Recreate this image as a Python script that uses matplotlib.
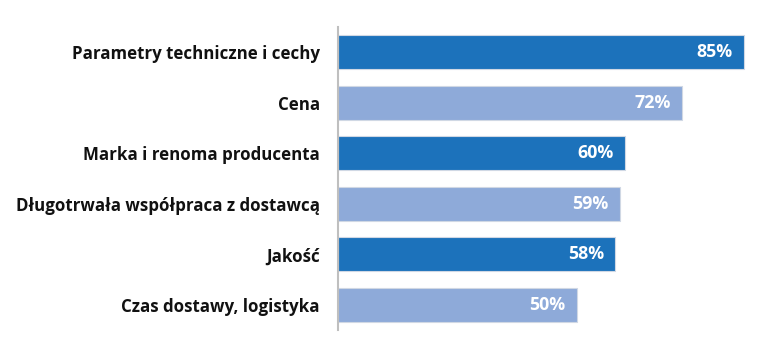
import matplotlib.pyplot as plt

categories = ["Parametry techniczne i cechy", "Cena", "Marka i renoma producenta",
              "Długotrwała współpraca z dostawcą", "Jakość", "Czas dostawy, logistyka"]
values = [85, 72, 60, 59, 58, 50]
colors = ["#1c72bb", "#8eaad9", "#1c72bb", "#8eaad9", "#1c72bb", "#8eaad9"]

plt.rcParams['font.family'] = ['Open Sans', 'DejaVu Sans']

fig = plt.figure(figsize=(7.64, 3.59), dpi=100)
ax = fig.add_axes([338 / 764, 29 / 359, 1 - 338 / 764, 303 / 359])

y = range(len(categories))
ax.barh(y, values, height=0.67, color=colors, edgecolor="#d0d8e4", linewidth=0.8)
ax.set_xlim(0, 89.1)
ax.set_ylim(len(categories) - 0.5, -0.5)

for i, v in enumerate(values):
    ax.text(v - 2.4, i, f"{v}%", ha="right", va="center", color="white",
            fontsize=12.8, fontweight="bold")

ax.set_yticks(list(y))
ax.set_yticklabels(categories, fontsize=12.2, fontweight="bold", color="#111111")
ax.tick_params(axis="y", length=0, pad=13)
ax.set_xticks([])
for s in ["top", "right", "bottom"]:
    ax.spines[s].set_visible(False)
ax.spines["left"].set_color("#bfbfbf")
ax.spines["left"].set_linewidth(1.5)

fig.savefig("out.png", dpi=100)
